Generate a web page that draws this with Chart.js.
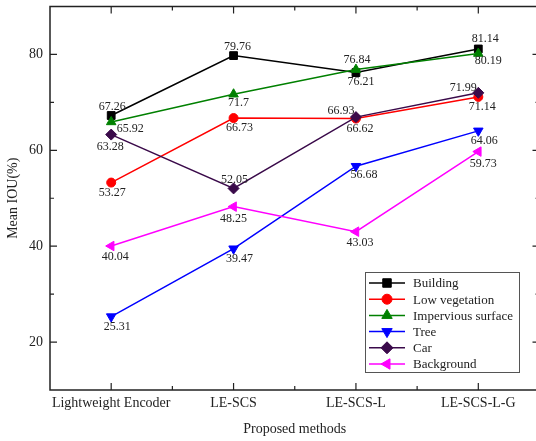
<!DOCTYPE html>
<html lang="en">
<head>
    <meta charset="UTF-8">
    <title>Mean IOU</title>
    <script src="https://cdn.jsdelivr.net/npm/chart.js"></script>
    <style>
        html, body { margin: 0; padding: 0; background: #fff; overflow: hidden; }
        #wrap { width: 546px; height: 441px; }
    </style>
</head>
<body>
    <div id="wrap"><canvas id="iouChart" width="546" height="441"></canvas></div>
    <script>
        // data
        const methods = ['Lightweight Encoder', 'LE-SCS', 'LE-SCS-L', 'LE-SCS-L-G'];
        const seriesNames = ['Building', 'Low vegetation', 'Impervious surface', 'Tree', 'Car', 'Background'];
        const building = [67.26, 79.76, 76.21, 81.14];
        const lowVegetation = [53.27, 66.73, 66.62, 71.14];
        const impervious = [65.92, 71.7, 76.84, 80.19];
        const tree = [25.31, 39.47, 56.68, 64.06];
        const car = [63.28, 52.05, 66.93, 71.99];
        const background = [40.04, 48.25, 43.03, 59.73];
        const yTicks = [20, 40, 60, 80];
        const yMinorTicks = [30, 50, 70];

        const seriesValues = [building, lowVegetation, impervious, tree, car, background];

        // styling
        const colors = ['#000000', '#ff0000', '#008000', '#0000ff', '#3a0a4a', '#ff00ff'];
        const markers = ['rect', 'circle', 'triangle', 'triangle', 'rectRot', 'triangle'];
        const rotations = [0, 0, 0, 180, 0, 270];
        const radii = [5.5, 4.5, 5.5, 5.5, 5.5, 5.5];
        // where each value label sits relative to its point
        const labelOffsets = [
            [[1, -9], [4, -9], [5, 9], [7, -10]],
            [[1, 10], [6, 10], [4, 10], [4, 10]],
            [[19, 7], [5, 9], [1, -10], [10, 7]],
            [[6, 10], [6, 10], [8, 9], [6, 10]],
            [[-1, 12], [1, -9], [-15, -6], [-15, -5]],
            [[4, 11], [0, 12], [4, 11], [5, 12]]
        ];

        const serif = '"Liberation Serif", "DejaVu Serif", serif';

        const datasets = seriesNames.map((name, i) => ({
            label: name,
            data: seriesValues[i],
            borderColor: colors[i],
            backgroundColor: colors[i],
            pointBackgroundColor: colors[i],
            pointBorderColor: colors[i],
            pointStyle: markers[i],
            pointRotation: rotations[i],
            pointRadius: radii[i],
            pointBorderWidth: 1,
            borderWidth: 1.5,
            tension: 0,
            order: seriesNames.length - i
        }));

        // frame, ticks, value labels and legend
        const framePlugin = {
            id: 'frame',
            afterDatasetsDraw(chart) {
                const ctx = chart.ctx;
                const area = chart.chartArea;
                const x = chart.scales.x;
                const y = chart.scales.y;
                ctx.save();

                // value labels
                ctx.font = '12px ' + serif;
                ctx.fillStyle = '#222';
                ctx.textAlign = 'center';
                ctx.textBaseline = 'middle';
                chart.data.datasets.forEach((ds, i) => {
                    const meta = chart.getDatasetMeta(i);
                    meta.data.forEach((pt, j) => {
                        const off = labelOffsets[i][j];
                        ctx.fillText(String(ds.data[j]), pt.x + off[0], pt.y + off[1]);
                    });
                });

                // frame
                ctx.strokeStyle = '#222';
                ctx.lineWidth = 1.5;
                ctx.strokeRect(area.left, area.top, area.right - area.left, area.bottom - area.top);

                ctx.lineWidth = 1.2;
                ctx.beginPath();
                // x ticks (inward, top and bottom)
                methods.forEach((m, j) => {
                    const px = x.getPixelForValue(j);
                    ctx.moveTo(px, area.bottom); ctx.lineTo(px, area.bottom - 7);
                    ctx.moveTo(px, area.top); ctx.lineTo(px, area.top + 7);
                    if (j < methods.length - 1) {
                        const mx = (px + x.getPixelForValue(j + 1)) / 2;
                        ctx.moveTo(mx, area.bottom); ctx.lineTo(mx, area.bottom - 4);
                        ctx.moveTo(mx, area.top); ctx.lineTo(mx, area.top + 4);
                    }
                });
                // y ticks (inward, left and right)
                yTicks.forEach(v => {
                    const py = y.getPixelForValue(v);
                    ctx.moveTo(area.left, py); ctx.lineTo(area.left + 7, py);
                    ctx.moveTo(area.right, py); ctx.lineTo(area.right - 7, py);
                });
                yMinorTicks.forEach(v => {
                    const py = y.getPixelForValue(v);
                    ctx.moveTo(area.left, py); ctx.lineTo(area.left + 4, py);
                    ctx.moveTo(area.right, py); ctx.lineTo(area.right - 4, py);
                });
                ctx.stroke();

                // legend box
                const lx = 365, ly = 272, lw = 154, lh = 100;
                ctx.fillStyle = '#fff';
                ctx.fillRect(lx, ly, lw, lh);
                ctx.strokeStyle = '#555';
                ctx.lineWidth = 1;
                ctx.strokeRect(lx + 0.5, ly + 0.5, lw, lh);
                ctx.font = '13px ' + serif;
                ctx.textAlign = 'left';
                chart.data.datasets.forEach((ds, i) => {
                    const cy = ly + 11 + i * 16.2;
                    ctx.strokeStyle = ds.borderColor;
                    ctx.lineWidth = 1.5;
                    ctx.beginPath();
                    ctx.moveTo(lx + 4, cy);
                    ctx.lineTo(lx + 40, cy);
                    ctx.stroke();
                    ctx.fillStyle = ds.pointBackgroundColor;
                    ctx.strokeStyle = ds.pointBorderColor;
                    ctx.lineWidth = 1;
                    Chart.helpers.drawPoint(ctx, {
                        pointStyle: ds.pointStyle,
                        rotation: ds.pointRotation,
                        radius: ds.pointRadius + 0.5,
                        borderWidth: 1
                    }, lx + 22, cy);
                    ctx.fillStyle = '#222';
                    ctx.fillText(ds.label, lx + 48, cy + 1);
                });
                ctx.restore();
            }
        };

        new Chart(document.getElementById('iouChart'), {
            type: 'line',
            data: { labels: methods, datasets: datasets },
            plugins: [framePlugin],
            options: {
                responsive: false,
                animation: false,
                layout: { padding: { top: 6, right: 1, left: 0, bottom: 0 } },
                plugins: {
                    legend: { display: false },
                    tooltip: { enabled: false }
                },
                scales: {
                    x: {
                        type: 'category',
                        offset: true,
                        grid: { display: false, drawTicks: false },
                        border: { display: false },
                        ticks: {
                            color: '#222',
                            padding: 5,
                            maxRotation: 0,
                            autoSkip: false,
                            font: { family: serif, size: 14 }
                        },
                        title: {
                            display: true,
                            text: 'Proposed methods',
                            color: '#222',
                            padding: { top: 0, bottom: 3 },
                            font: { family: serif, size: 14 }
                        },
                        afterFit(scale) {
                            scale.height = 51;
                            scale.paddingLeft = 0;
                            scale.paddingRight = 0;
                        }
                    },
                    y: {
                        min: 10,
                        max: 90,
                        grid: { display: false, drawTicks: false },
                        border: { display: false },
                        afterBuildTicks(scale) {
                            scale.ticks = yTicks.map(v => ({ value: v }));
                        },
                        ticks: {
                            color: '#222',
                            padding: 7,
                            font: { family: serif, size: 14 }
                        },
                        title: {
                            display: true,
                            text: 'Mean IOU(%)',
                            color: '#222',
                            padding: { top: 5, bottom: 0 },
                            font: { family: serif, size: 14 }
                        },
                        afterFit(scale) {
                            scale.width = 50;
                            scale.paddingTop = 0;
                            scale.paddingBottom = 0;
                        }
                    }
                }
            }
        });
    </script>
</body>
</html>
